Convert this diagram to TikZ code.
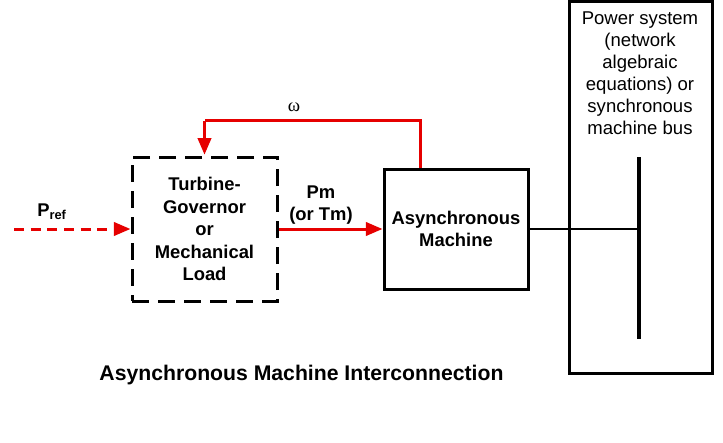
\documentclass[tikz,border=0pt]{standalone}
\usepackage{fontspec}
\setmainfont{Liberation Sans}
\newfontfamily\greekserif{Liberation Serif}
\usetikzlibrary{arrows.meta}
\definecolor{sigred}{RGB}{230,0,0}
\tikzset{
  px/.style={x=0.75pt,y=-0.75pt},
  blocktext/.style={font=\fontsize{13.8}{16.9}\selectfont\bfseries,align=center},
  tgbox/.style={draw,line width=2.25pt,dash pattern=on 13pt off 6.5pt,minimum width=108.75pt,minimum height=108pt,inner sep=0pt},
  ambox/.style={draw,line width=2.25pt,minimum width=108pt,minimum height=90pt,inner sep=0pt},
  psbox/.style={draw,line width=2.25pt,minimum width=107.25pt,minimum height=278.25pt,inner sep=0pt},
  sig/.style={draw=sigred,line width=2.25pt,-{Triangle[length=12.5pt,width=10pt]}},
  sigplain/.style={draw=sigred,line width=2.25pt},
  prefsig/.style={sig,dash pattern=on 7.5pt off 5pt},
  busline/.style={line width=3pt},
  conn/.style={line width=1.1pt},
}
\begin{document}
\begin{tikzpicture}[px]
\useasboundingbox (0,0) rectangle (723,442);
\node[tgbox,blocktext] (tg) at (204.5,229) {Turbine-\\Governor\\or\\Mechanical\\Load};
\node[ambox,blocktext] (am) at (456,229) {Asynchronous\\Machine};
\node[psbox] (ps) at (640.5,187.5) {};
\node[font=\fontsize{13.9}{16.5}\selectfont,align=center] (pstext) at (640,73) {Power system\\(network\\algebraic\\equations) or\\synchronous\\machine bus};
\coordinate (bustop) at (639,157);
\coordinate (busbot) at (639,339);
\draw[busline] (bustop) -- (busbot);
\draw[conn] (am.east) -- (am.east -| bustop);
\coordinate (fbup) at (420,121);
\coordinate (fbl) at (204.5,121);
\draw[sigplain] (am.north -| fbup) -- (fbup) -- (fbl);
\draw[sig] (fbl) -- ([yshift=0.6pt]tg.north);
\draw[sig] (tg.east) -- (am.west);
\coordinate (prefstart) at (14,229);
\draw[prefsig] (prefstart) -- (tg.west);
\node[font=\fontsize{14}{16}\selectfont\greekserif] (omega) at (294,107) {ω};
\node[blocktext] (pm) at (321,205) {Pm\\(or Tm)};
\node[font=\fontsize{13.8}{16}\selectfont\bfseries] (pref) at (52,212) {P\textsubscript{ref}};
\node[font=\fontsize{15.9}{18}\selectfont\bfseries] (title) at (301.5,375) {Asynchronous Machine Interconnection};
\end{tikzpicture}
\end{document}
